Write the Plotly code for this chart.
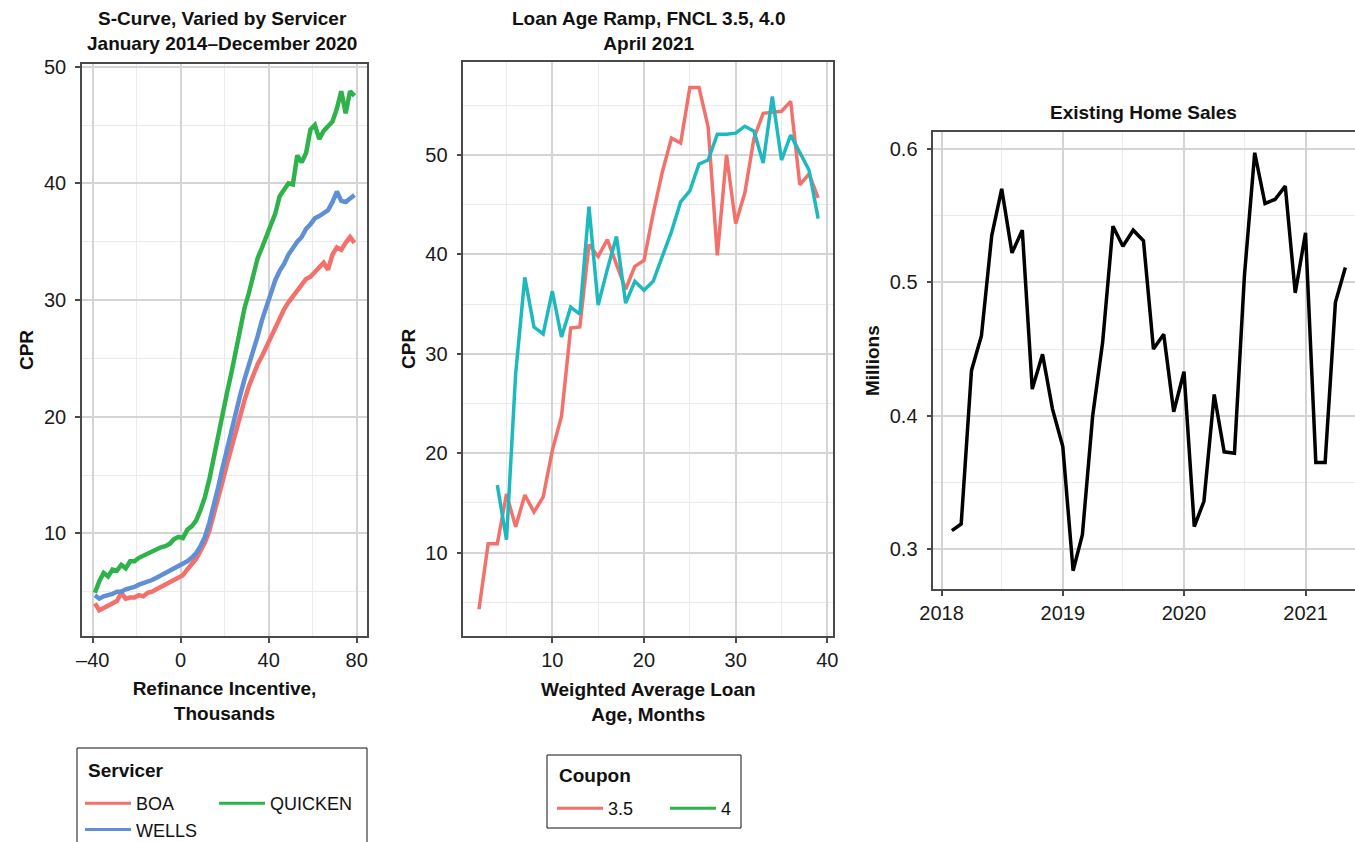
import plotly.graph_objects as go

W, H = 1355, 842

# ---------------- Panel 1: S-curve by servicer ----------------
incentive = [-39, -37, -35, -33, -31, -29, -27, -25, -23, -21, -19, -17, -15, -13, -11, -9, -7, -5, -3, -1,
             1, 3, 5, 7, 9, 11, 13, 15, 17, 19, 21, 23, 25, 27, 29, 31, 33, 35, 37, 39,
             41, 43, 45, 47, 49, 51, 53, 55, 57, 59, 61, 63, 65, 67, 69, 71, 73, 75, 77, 79]
boa = [4.0, 3.4, 3.6, 3.8, 4.0, 4.2, 4.9, 4.4, 4.5, 4.5, 4.7, 4.6, 4.9, 5.0, 5.2, 5.4, 5.6, 5.8, 6.0, 6.3,
       6.4, 6.9, 7.3, 7.8, 8.5, 9.2, 10.2, 11.5, 12.9, 14.4, 15.9, 17.3, 18.8, 20.2, 21.4, 22.6, 23.6, 24.5, 25.2, 26.0,
       26.9, 27.8, 28.5, 29.2, 29.8, 30.3, 30.7, 31.3, 31.8, 32.0, 32.4, 32.8, 33.2, 32.6, 33.9, 34.5, 34.3, 34.9, 35.4, 34.9]
wells = [4.7, 4.4, 4.6, 4.7, 4.8, 5.0, 5.0, 5.2, 5.3, 5.4, 5.6, 5.7, 5.9, 6.0, 6.2, 6.4, 6.6, 6.8, 6.9, 7.1,
         7.3, 7.6, 7.9, 8.3, 8.9, 9.7, 10.9, 12.3, 13.9, 15.6, 17.2, 18.9, 20.4, 21.8, 23.2, 24.4, 25.5, 26.9, 28.3, 29.5,
         30.6, 31.7, 32.5, 33.1, 33.9, 34.5, 35.0, 35.4, 36.1, 36.5, 37.0, 37.2, 37.4, 37.7, 38.4, 39.3, 38.5, 38.4, 38.7, 39.0]
quicken = [4.9, 5.9, 6.6, 6.3, 6.9, 6.8, 7.3, 7.0, 7.6, 7.6, 7.9, 8.1, 8.3, 8.5, 8.6, 8.8, 8.9, 9.1, 9.5, 9.7,
           9.6, 10.3, 10.6, 11.1, 12.0, 13.1, 14.6, 16.5, 18.5, 20.5, 22.0, 23.7, 25.6, 27.6, 29.3, 30.6, 32.2, 33.6, 34.5, 35.4,
           36.3, 37.4, 38.9, 39.4, 40.0, 39.9, 42.4, 41.8, 42.6, 44.6, 45.0, 43.8, 44.5, 44.9, 45.3, 46.4, 47.9, 46.0, 47.9, 47.5]
servicers = ["BOA", "WELLS", "QUICKEN"]
servicer_values = [boa, wells, quicken]
servicer_colors = ["#F4706A", "#5F8FD6", "#2DB34A"]

# ---------------- Panel 2: Loan age ramp ----------------
age_35 = [2, 3, 4, 5, 6, 7, 8, 9, 10, 11, 12, 13, 14, 15, 16, 17, 18, 19, 20, 21,
          22, 23, 24, 25, 26, 27, 28, 29, 30, 31, 32, 33, 34, 35, 36, 37, 38, 39]
cpr_35 = [4.3, 10.9, 10.9, 15.9, 12.6, 15.8, 14.1, 15.6, 20.3, 23.7, 32.6, 32.7, 41.0, 39.8, 41.5, 39.0, 36.5, 38.8, 39.4, 44.1,
          48.3, 51.7, 51.2, 56.8, 56.8, 52.8, 39.9, 50.0, 43.1, 46.2, 51.7, 54.2, 54.3, 54.4, 55.4, 47.0, 48.1, 45.7]
age_40 = [4, 5, 6, 7, 8, 9, 10, 11, 12, 13, 14, 15, 16, 17, 18, 19, 20, 21,
          22, 23, 24, 25, 26, 27, 28, 29, 30, 31, 32, 33, 34, 35, 36, 37, 38, 39]
cpr_40 = [16.8, 11.3, 28.0, 37.7, 32.7, 32.0, 36.3, 31.7, 34.7, 34.0, 44.8, 34.9, 38.5, 41.8, 35.1, 37.3, 36.4, 37.3,
          39.8, 42.3, 45.3, 46.4, 49.1, 49.5, 52.1, 52.1, 52.2, 52.9, 52.4, 49.2, 55.9, 49.5, 52.0, 50.2, 48.5, 43.6]
coupon_labels = ["3.5", "4"]
coupon_line_colors = ["#F4706A", "#1DB9BF"]
coupon_legend_colors = ["#F4706A", "#2DB34A"]

# ---------------- Panel 3: Existing home sales ----------------
months = ["2018-02-01", "2018-03-01", "2018-04-01", "2018-05-01", "2018-06-01", "2018-07-01", "2018-08-01",
          "2018-09-01", "2018-10-01", "2018-11-01", "2018-12-01", "2019-01-01", "2019-02-01", "2019-03-01",
          "2019-04-01", "2019-05-01", "2019-06-01", "2019-07-01", "2019-08-01", "2019-09-01", "2019-10-01",
          "2019-11-01", "2019-12-01", "2020-01-01", "2020-02-01", "2020-03-01", "2020-04-01", "2020-05-01",
          "2020-06-01", "2020-07-01", "2020-08-01", "2020-09-01", "2020-10-01", "2020-11-01", "2020-12-01",
          "2021-01-01", "2021-02-01", "2021-03-01", "2021-04-01", "2021-05-01"]
sales = [0.314, 0.319, 0.434, 0.460, 0.535, 0.570, 0.522, 0.539, 0.420, 0.446,
         0.405, 0.377, 0.284, 0.311, 0.400, 0.455, 0.542, 0.527, 0.539, 0.531,
         0.450, 0.461, 0.403, 0.433, 0.317, 0.336, 0.416, 0.373, 0.372, 0.505,
         0.597, 0.559, 0.562, 0.572, 0.492, 0.537, 0.365, 0.365, 0.485, 0.511]
year_ticks = ["2018-01-01", "2019-01-01", "2020-01-01", "2021-01-01"]
year_labels = ["2018", "2019", "2020", "2021"]

# ---------------- styling helpers ----------------
FONT = "Liberation Sans"
BORDER = "#4a4a4a"
MAJOR = "#d4d4d4"
MINOR = "#ebebeb"

def px_x(p):
    return p / W

def px_y(p):
    return 1 - p / H

fig = go.Figure()

# Panel 1 traces
for name, vals, col in zip(servicers, servicer_values, servicer_colors):
    fig.add_trace(go.Scatter(x=incentive, y=vals, mode="lines", line=dict(color=col, width=4.5),
                             showlegend=False, xaxis="x", yaxis="y", hoverinfo="skip"))

# Panel 2 traces
fig.add_trace(go.Scatter(x=age_35, y=cpr_35, mode="lines", line=dict(color=coupon_line_colors[0], width=3.5),
                         showlegend=False, xaxis="x2", yaxis="y2"))
fig.add_trace(go.Scatter(x=age_40, y=cpr_40, mode="lines", line=dict(color=coupon_line_colors[1], width=3.5),
                         showlegend=False, xaxis="x2", yaxis="y2"))

# Panel 3 trace
fig.add_trace(go.Scatter(x=months, y=sales, mode="lines", line=dict(color="black", width=3.5),
                         showlegend=False, xaxis="x3", yaxis="y3"))

# Legend-only traces
legend_assign = {"BOA": "legend", "WELLS": "legend", "QUICKEN": "legend2"}
for name, col in zip(servicers, servicer_colors):
    fig.add_trace(go.Scatter(x=[None], y=[None], mode="lines", name=name, line=dict(color=col, width=3),
                             legend=legend_assign[name], xaxis="x", yaxis="y"))
for name, col in zip(coupon_labels, coupon_legend_colors):
    fig.add_trace(go.Scatter(x=[None], y=[None], mode="lines", name=name, line=dict(color=col, width=3),
                             legend="legend3", xaxis="x2", yaxis="y2"))

tickfont = dict(family=FONT, size=20, color="#1a1a1a")
titlefont = dict(family=FONT, size=19, color="#111")
legfont = dict(family=FONT, size=18, color="#111")

def axis_common(**kw):
    d = dict(showline=True, linecolor=BORDER, linewidth=1.5, mirror=True, ticks="outside", ticklen=5,
             tickwidth=1.5, tickcolor=BORDER, showgrid=True, gridcolor=MAJOR, gridwidth=1.5,
             zeroline=False, tickfont=tickfont, title_font=titlefont, fixedrange=True, automargin=False)
    d.update(kw)
    return d

fig.update_layout(
    width=W, height=H, margin=dict(l=0, r=0, t=0, b=0, autoexpand=False),
    paper_bgcolor="white", plot_bgcolor="white",
    font=dict(family=FONT, color="#111"),
    xaxis=axis_common(domain=[px_x(82), px_x(367)], range=[-44.86, 84.7],
                      tickmode="array", tickvals=[-40, 0, 40, 80], ticktext=["\u201340", "0", "40", "80"],
                      minor=dict(tickmode="linear", tick0=0, dtick=20, showgrid=True, gridcolor=MINOR, gridwidth=1),
                      title=dict(text="<b>Refinance Incentive,<br>Thousands</b>", standoff=12),
                      anchor="y"),
    yaxis=axis_common(domain=[px_y(636), px_y(64)], range=[1.2, 50.23],
                      tickmode="array", tickvals=[10, 20, 30, 40, 50], ticklabelstandoff=5,
                      minor=dict(tickmode="linear", tick0=0, dtick=5, showgrid=True, gridcolor=MINOR, gridwidth=1),
                      title=dict(text="<b>CPR</b>", standoff=5), anchor="x"),
    xaxis2=axis_common(domain=[px_x(463.3), px_x(833.3)], range=[0.29, 40.65],
                       tickmode="array", tickvals=[10, 20, 30, 40],
                       minor=dict(tickmode="linear", tick0=0, dtick=5, showgrid=True, gridcolor=MINOR, gridwidth=1),
                       title=dict(text="<b>Weighted Average Loan<br>Age, Months</b>", standoff=13),
                       anchor="y2"),
    yaxis2=axis_common(domain=[px_y(636), px_y(61.7)], range=[1.62, 59.39],
                       tickmode="array", tickvals=[10, 20, 30, 40, 50], ticklabelstandoff=5,
                       minor=dict(tickmode="linear", tick0=0, dtick=5, showgrid=True, gridcolor=MINOR, gridwidth=1),
                       title=dict(text="<b>CPR</b>", standoff=5), anchor="x2"),
    xaxis3=axis_common(type="date", domain=[px_x(933.3), 1.0], range=["2017-12-07", "2021-05-30"],
                       tickmode="array", tickvals=year_ticks, ticktext=year_labels,
                       minor=dict(tickmode="array",
                                  tickvals=["2018-07-01", "2019-07-01", "2020-07-01"],
                                  showgrid=True, gridcolor=MINOR, gridwidth=1),
                       anchor="y3"),
    yaxis3=axis_common(domain=[px_y(589), px_y(132.3)], range=[0.2703, 0.6123], mirror=False,
                       tickmode="array", tickvals=[0.3, 0.4, 0.5, 0.6], ticktext=["0.3", "0.4", "0.5", "0.6"],
                       ticklabelstandoff=5,
                       minor=dict(tickmode="array", tickvals=[0.35, 0.45, 0.55],
                                  showgrid=True, gridcolor=MINOR, gridwidth=1),
                       title=dict(text="<b>Millions</b>", standoff=5), anchor="x3"),
    legend=dict(x=px_x(80), y=px_y(785), xanchor="left", yanchor="top", orientation="v",
                bgcolor="rgba(0,0,0,0)", borderwidth=0, font=legfont, tracegroupgap=0, itemwidth=46),
    legend2=dict(x=px_x(214), y=px_y(785), xanchor="left", yanchor="top", orientation="v",
                 bgcolor="rgba(0,0,0,0)", borderwidth=0, font=legfont, itemwidth=46),
    legend3=dict(x=px_x(552), y=px_y(790), xanchor="left", yanchor="top", orientation="h",
                 bgcolor="rgba(0,0,0,0)", borderwidth=0, font=legfont, itemwidth=46, entrywidth=52),
    shapes=[
        dict(type="rect", xref="paper", yref="paper", x0=px_x(77), x1=px_x(367), y0=px_y(860), y1=px_y(748),
             line=dict(color="#111", width=1), fillcolor="rgba(0,0,0,0)", layer="below"),
        dict(type="rect", xref="paper", yref="paper", x0=px_x(547), x1=px_x(741), y0=px_y(828), y1=px_y(755),
             line=dict(color="#111", width=1), fillcolor="rgba(0,0,0,0)", layer="below"),
    ],
    annotations=[
        dict(text="<b>S-Curve, Varied by Servicer<br>January 2014\u2013December 2020</b>", xref="paper", yref="paper",
             x=px_x(222), y=px_y(31), xanchor="center", yanchor="middle", showarrow=False,
             font=dict(family=FONT, size=19, color="#111")),
        dict(text="<b>Loan Age Ramp, FNCL 3.5, 4.0<br>April 2021</b>", xref="paper", yref="paper",
             x=px_x(648), y=px_y(31), xanchor="center", yanchor="middle", showarrow=False,
             font=dict(family=FONT, size=19, color="#111")),
        dict(text="<b>Existing Home Sales</b>", xref="paper", yref="paper",
             x=px_x(1143), y=px_y(112), xanchor="center", yanchor="middle", showarrow=False,
             font=dict(family=FONT, size=19, color="#111")),
        dict(text="<b>Servicer</b>", xref="paper", yref="paper",
             x=px_x(86), y=px_y(770), xanchor="left", yanchor="middle", showarrow=False,
             font=dict(family=FONT, size=19, color="#111")),
        dict(text="<b>Coupon</b>", xref="paper", yref="paper",
             x=px_x(557), y=px_y(775), xanchor="left", yanchor="middle", showarrow=False,
             font=dict(family=FONT, size=19, color="#111")),
    ],
)

fig.write_html("out.html")
